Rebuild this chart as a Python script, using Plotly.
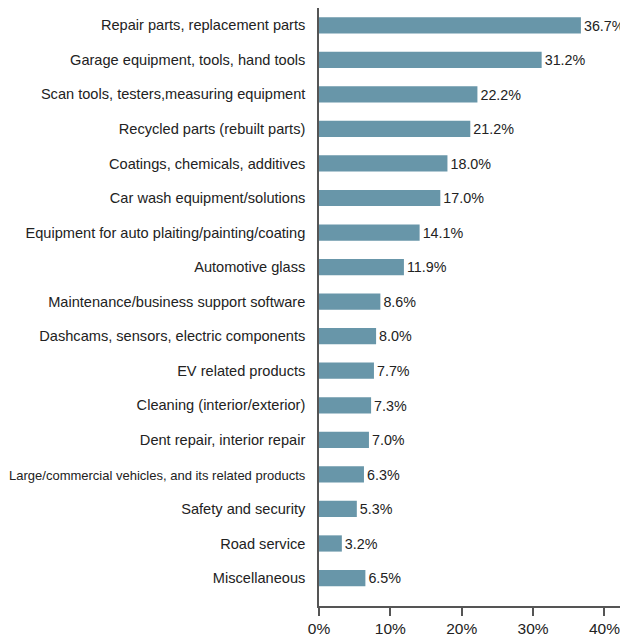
import plotly.graph_objects as go

categories = [
    "Repair parts, replacement parts",
    "Garage equipment, tools, hand tools",
    "Scan tools, testers,measuring equipment",
    "Recycled parts (rebuilt parts)",
    "Coatings, chemicals, additives",
    "Car wash equipment/solutions",
    "Equipment for auto plaiting/painting/coating",
    "Automotive glass",
    "Maintenance/business support software",
    "Dashcams, sensors, electric components",
    "EV related products",
    "Cleaning (interior/exterior)",
    "Dent repair, interior repair",
    "Large/commercial vehicles, and its related products",
    "Safety and security",
    "Road service",
    "Miscellaneous",
]
values = [36.7, 31.2, 22.2, 21.2, 18.0, 17.0, 14.1, 11.9, 8.6, 8.0, 7.7, 7.3, 7.0, 6.3, 5.3, 3.2, 6.5]
x_ticks = [0, 10, 20, 30, 40]
x_tick_labels = ["0%", "10%", "20%", "30%", "40%"]

tick_text = []
for c in categories:
    if c.startswith("Large/"):
        tick_text.append("<span style='font-size:13px'>" + c + "</span>")
    else:
        tick_text.append(c)

fig = go.Figure(go.Bar(
    x=values,
    y=list(range(len(categories))),
    orientation="h",
    marker=dict(color="#6896a9", line=dict(width=0)),
    text=[f"{v:.1f}%" for v in values],
    textposition="outside",
    cliponaxis=False,
    textfont=dict(size=15, color="#222222", family="Liberation Sans, Arial, sans-serif"),
    width=0.47,
))

# page body has an 8px default margin, so the figure is 8px smaller than the window
fig.update_layout(
    width=620, height=632,
    margin=dict(l=311, r=0, t=0, b=34, autoexpand=False),
    plot_bgcolor="white", paper_bgcolor="white",
    showlegend=False,
    font=dict(family="Liberation Sans, Arial, sans-serif", color="#222222", size=14),
)
fig.update_xaxes(
    range=[0, 43.3],
    tickvals=x_ticks, ticktext=x_tick_labels,
    showgrid=False, zeroline=False, automargin=False,
    showline=True, linecolor="#555555", linewidth=1.5,
    ticks="outside", ticklen=8, tickcolor="#555555", tickwidth=1.5,
    tickfont=dict(size=15.5),
)
fig.update_yaxes(
    range=[16.81, -0.5],
    tickvals=list(range(len(categories))), ticktext=tick_text,
    showgrid=False, zeroline=False, automargin=False,
    showline=True, linecolor="#555555", linewidth=1.5,
    ticks="", ticklabelstandoff=9,
    tickfont=dict(size=14.6),
)

fig.write_html("out.html")
